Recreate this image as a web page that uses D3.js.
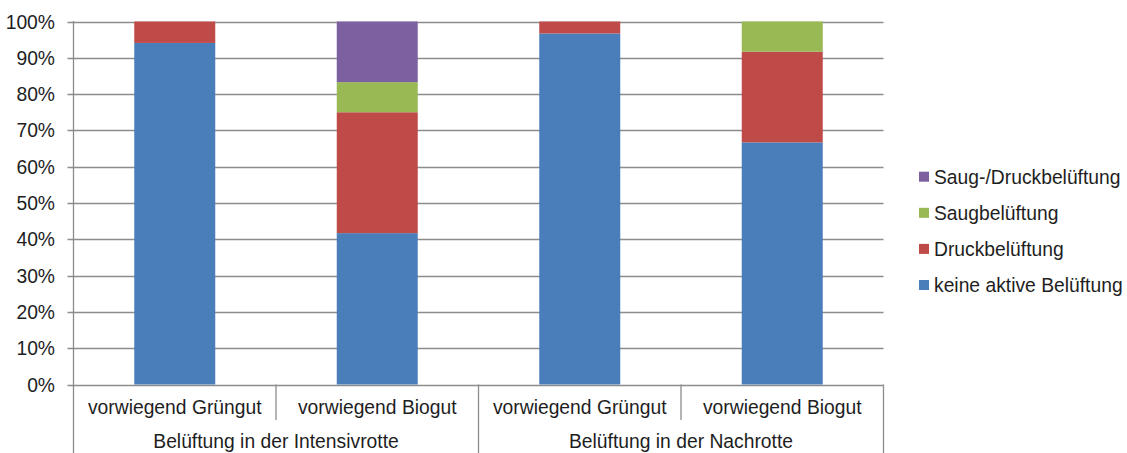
<!DOCTYPE html>
<html>
<head>
<meta charset="utf-8">
<script src="https://cdn.jsdelivr.net/npm/d3@7"></script>
<style>
  html, body { margin: 0; padding: 0; background: #fff; }
  svg { display: block; font-family: "Liberation Sans", Arial, sans-serif; }
</style>
</head>
<body>
<svg id="chart" width="1127" height="453"></svg>
<script>
// Category labels (inner) and their group labels (outer)
const categories = ["vorwiegend Grüngut", "vorwiegend Biogut", "vorwiegend Grüngut", "vorwiegend Biogut"];
const groups = ["Belüftung in der Intensivrotte", "Belüftung in der Nachrotte"];
const groupOf = [0, 0, 1, 1];

// Shares per category, in percent
const keineAktive = [94.1, 41.7, 96.7, 66.7];
const druck       = [5.9, 33.3, 3.3, 25.0];
const saug        = [0, 8.3, 0, 8.3];
const saugDruck   = [0, 16.7, 0, 0];

const seriesNames = ["keine aktive Belüftung", "Druckbelüftung", "Saugbelüftung", "Saug-/Druckbelüftung"];
const seriesColors = ["#4A7EBB", "#BE4B48", "#98B954", "#7D60A0"];
const yTicks = [0, 10, 20, 30, 40, 50, 60, 70, 80, 90, 100];

const rows = categories.map((c, i) => ({
  idx: i,
  "keine aktive Belüftung": keineAktive[i],
  "Druckbelüftung": druck[i],
  "Saugbelüftung": saug[i],
  "Saug-/Druckbelüftung": saugDruck[i]
}));

const svg = d3.select("#chart");
const plotLeft = 73.5, plotRight = 883.5, plotTop = 21.5, plotBottom = 384.5;
const gridColor = "#8c8c8c";
const textColor = "#1e1e1e";
const fontSize = 19.3;

const x = d3.scaleBand().domain(d3.range(categories.length)).range([plotLeft, plotRight]).paddingInner(0.6).paddingOuter(0.3);
const xBand = d3.scaleBand().domain(d3.range(categories.length)).range([plotLeft, plotRight]);
const y = d3.scaleLinear().domain([0, 100]).range([plotBottom, plotTop]);

// Horizontal gridlines and tick marks
svg.append("g").selectAll("line").data(yTicks).join("line")
  .attr("x1", plotLeft - 6).attr("x2", plotRight)
  .attr("y1", d => Math.round(y(d)) + 0.5).attr("y2", d => Math.round(y(d)) + 0.5)
  .attr("stroke", gridColor).attr("stroke-width", 1.3);

svg.append("g").selectAll("text").data(yTicks).join("text")
  .attr("x", 55).attr("y", d => y(d) + 7)
  .attr("text-anchor", "end").attr("font-size", fontSize).attr("fill", textColor)
  .text(d => d + "%");

// Stacked bars
const stack = d3.stack().keys(seriesNames);
const stacked = stack(rows);
svg.append("g").selectAll("g").data(stacked).join("g")
  .attr("fill", (d, i) => seriesColors[i])
  .selectAll("rect").data(d => d.filter(p => p[1] - p[0] > 0)).join("rect")
  .attr("x", d => x(d.data.idx))
  .attr("width", x.bandwidth())
  .attr("y", d => y(d[1]))
  .attr("height", d => y(d[0]) - y(d[1]));

// Y axis line
svg.append("line")
  .attr("x1", plotLeft).attr("x2", plotLeft).attr("y1", plotTop - 0.5).attr("y2", 453)
  .attr("stroke", gridColor).attr("stroke-width", 1.3);

// Category separators
const sepInner = [1, 3].map(i => xBand(i));
const sepOuter = [2, 4].map(i => i < 4 ? xBand(i) : plotRight);
svg.append("g").selectAll("line").data(sepInner).join("line")
  .attr("x1", d => d).attr("x2", d => d).attr("y1", plotBottom).attr("y2", 420)
  .attr("stroke", gridColor).attr("stroke-width", 1.3);
svg.append("g").selectAll("line").data(sepOuter).join("line")
  .attr("x1", d => d).attr("x2", d => d).attr("y1", plotBottom).attr("y2", 453)
  .attr("stroke", gridColor).attr("stroke-width", 1.3);

// Category labels
svg.append("g").selectAll("text").data(categories).join("text")
  .attr("x", (d, i) => xBand(i) + xBand.bandwidth() / 2)
  .attr("y", 414)
  .attr("text-anchor", "middle").attr("font-size", fontSize).attr("fill", textColor)
  .text(d => d);

// Group labels
svg.append("g").selectAll("text").data(groups).join("text")
  .attr("x", (d, g) => {
    const members = d3.range(categories.length).filter(i => groupOf[i] === g);
    return (xBand(members[0]) + xBand(members[members.length - 1]) + xBand.bandwidth()) / 2;
  })
  .attr("y", 447.5)
  .attr("text-anchor", "middle").attr("font-size", fontSize).attr("fill", textColor)
  .text(d => d);

// Legend, top entry is the last stacked series
const legendOrder = seriesNames.map((n, i) => ({ name: n, color: seriesColors[i] })).reverse();
const lg = svg.append("g").selectAll("g").data(legendOrder).join("g")
  .attr("transform", (d, i) => `translate(919, ${176.7 + i * 36.1})`);
lg.append("rect").attr("x", 0).attr("y", -5).attr("width", 10).attr("height", 10).attr("fill", d => d.color);
lg.append("text").attr("x", 15).attr("y", 6.8)
  .attr("font-size", fontSize).attr("fill", textColor).text(d => d.name);
</script>
</body>
</html>
